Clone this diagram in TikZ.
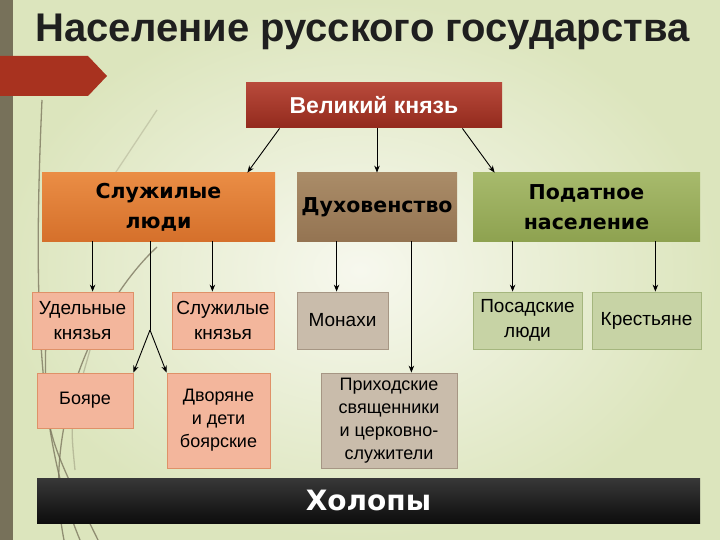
\documentclass[tikz,border=0pt]{standalone}
\usepackage{fontspec}
\setmainfont{Liberation Sans}
\newfontfamily\wideface{DejaVu Sans}
\usetikzlibrary{arrows.meta, positioning}

\definecolor{bgin}{HTML}{F7F8EE}
\definecolor{bgout}{HTML}{DCE5BD}
\definecolor{sidebar}{HTML}{77715A}
\definecolor{flagred}{HTML}{A8321F}
\definecolor{grandtop}{HTML}{B84A3B}
\definecolor{grandbot}{HTML}{932A1D}
\definecolor{servtop}{HTML}{EA8D45}
\definecolor{servbot}{HTML}{D5702B}
\definecolor{clergytop}{HTML}{AA8C68}
\definecolor{clergybot}{HTML}{947452}
\definecolor{taxtop}{HTML}{A7BA6C}
\definecolor{taxbot}{HTML}{8EA250}
\definecolor{salmon}{HTML}{F3B69C}
\definecolor{salmonline}{HTML}{DF9168}
\definecolor{greige}{HTML}{C9BCAB}
\definecolor{greigeline}{HTML}{A69684}
\definecolor{sage}{HTML}{C7D3A5}
\definecolor{sageline}{HTML}{A5B67E}

\begin{document}
\begin{tikzpicture}[x=1pt,y=-1pt,>={Stealth[length=7pt,width=5.5pt]},
		thick,
		top box/.style={rectangle, inner sep=2pt, align=center, font=\wideface\bfseries\fontsize{20.5}{30}\selectfont},
		sub box/.style={rectangle, draw, line width=0.8pt, inner sep=1pt, align=center, font=\fontsize{19}{25}\selectfont},
		low box/.style={rectangle, draw, line width=0.8pt, inner sep=1pt, align=center, font=\fontsize{18}{23}\selectfont},
		arr/.style={->, line width=0.9pt, black},
		deco/.style={line width=1.3pt, draw=sidebar, opacity=0.75}]
		\useasboundingbox (0,0) rectangle (720,540);

		%% Background
		\begin{scope}
			\shade[inner color=bgin, outer color=bgout] (0,0) rectangle (720,540);
			\fill[sidebar] (0,0) rectangle (13,540);
			\fill[flagred] (0,56) -- (88,56) -- (107,76) -- (88,96) -- (0,96) -- cycle;
			\draw[deco] (42,100) .. controls (33,300) and (38,440) .. (80,540);
			\draw[deco] (46,330) .. controls (44,430) .. (98,540);
			\draw[deco] (157,247) .. controls (100,300) and (40,420) .. (64,540);
			\draw[deco, opacity=0.25] (157,110) -- (112,178);
			\draw[deco, opacity=0.35] (90,350) .. controls (70,420) .. (75,470);
		\end{scope}

		\node (title) at (362.5,42) [anchor=base, font=\bfseries\fontsize{40}{42}\selectfont, text=black!88] {Население русского государства};

		%% Nodes
		\begin{scope}
			\node (grand) at (374,105.5) [rectangle, minimum width=256, minimum height=45, top color=grandtop, bottom color=grandbot, text=white, font=\bfseries\fontsize{23}{24}\selectfont] {Великий князь};
		\end{scope}

		% Top row
		\begin{scope}
			\node (serv) at (158.5,207) [top box, minimum width=233, minimum height=68, top color=servtop, bottom color=servbot] {Служилые\\люди};
			\node (clergy) at (377,207) [top box, minimum width=160, minimum height=68, top color=clergytop, bottom color=clergybot] {Духовенство};
			\node (tax) at (586.5,207) [top box, minimum width=227, minimum height=68, top color=taxtop, bottom color=taxbot] {Податное\\население};
		\end{scope}

		% Middle row
		\begin{scope}
			\node (udel) at (82.5,320.5) [sub box, fill=salmon, draw=salmonline, minimum width=101, minimum height=57] {Удельные\\князья};
			\node (servpr) at (223,320.5) [sub box, fill=salmon, draw=salmonline, minimum width=102, minimum height=57] {Служилые\\князья};
			\node (monks) at (342.5,320.5) [sub box, fill=greige, draw=greigeline, minimum width=91, minimum height=57] {Монахи};
			\node (posad) at (527.5,320.5) [sub box, fill=sage, draw=sageline, minimum width=109, minimum height=57] {Посадские\\люди};
			\node (peasants) at (646.5,320.5) [sub box, fill=sage, draw=sageline, minimum width=109, minimum height=57] {Крестьяне};
		\end{scope}

		% Bottom row
		\begin{scope}
			\node (boyars) at (85,400.5) [low box, fill=salmon, draw=salmonline, minimum width=96, minimum height=55] {Бояре};
			\node (dvor) at (218.5,420.5) [low box, fill=salmon, draw=salmonline, minimum width=103, minimum height=95] {Дворяне\\и дети\\боярские};
			\node (parish) at (389,420.5) [low box, fill=greige, draw=greigeline, minimum width=136, minimum height=95] {Приходские\\священники\\и церковно-\\служители};
			\node (kholopy) at (368.5,500.5) [rectangle, minimum width=663, minimum height=45, top color=black!78, bottom color=black!95, text=white, font=\wideface\bfseries\fontsize{28}{30}\selectfont] {Холопы};
		\end{scope}

		%% Edges
		\draw[arr] ([xshift=34pt]grand.south west) -- ([xshift=-28pt]serv.north east);
		\draw[arr] (grand.south -| clergy.north) -- (clergy.north);
		\draw[arr] ([xshift=-40pt]grand.south east) -- ([xshift=22pt]tax.north west);

		\draw[arr] ([xshift=51pt]serv.south west) coordinate (s1) -- (s1 |- udel.north);
		\draw[arr] ([xshift=-63pt]serv.south east) coordinate (s2) -- (s2 |- servpr.north);
		\coordinate (fork) at (150,330);
		\draw[line width=0.9pt] (fork |- serv.south) -- (fork);
		\draw[arr] (fork) -- (boyars.north east);
		\draw[arr] (fork) -- (dvor.north west);

		\draw[arr] ([xshift=40pt]clergy.south west) coordinate (c1) -- (c1 |- monks.north);
		\draw[arr] ([xshift=-46pt]clergy.south east) coordinate (c2) -- (c2 |- parish.north);

		\draw[arr] ([xshift=40pt]tax.south west) coordinate (t1) -- (t1 |- posad.north);
		\draw[arr] ([xshift=-45pt]tax.south east) coordinate (t2) -- (t2 |- peasants.north);
	\end{tikzpicture}
\end{document}
